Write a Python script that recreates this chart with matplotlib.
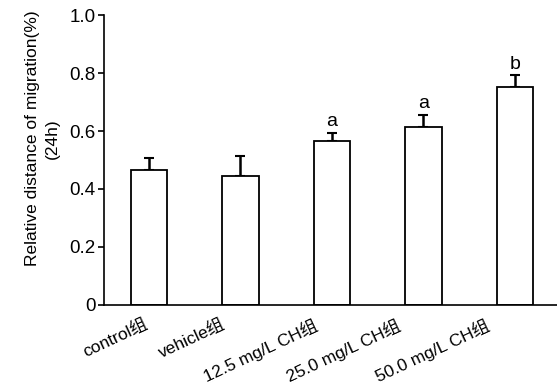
import numpy as np
import matplotlib.pyplot as plt
import matplotlib.transforms as mtransforms

plt.rcParams['font.family'] = ['Liberation Sans', 'Noto Sans CJK SC']

groups = ['control组', 'vehicle组', '12.5 mg/L CH组', '25.0 mg/L CH组', '50.0 mg/L CH组']
means = [0.466, 0.445, 0.567, 0.615, 0.753]
errs = [0.042, 0.069, 0.027, 0.041, 0.040]
marks = ['', '', 'a', 'a', 'b']

fig = plt.figure(figsize=(5.57, 3.86), dpi=100)
ax = fig.add_axes([0.187, 0.21, 0.813, 0.751])

x = np.arange(len(groups))
ax.bar(x, means, width=0.4, color='white', edgecolor='black', linewidth=1.3, zorder=2)
ax.errorbar(x, means, yerr=[np.zeros(len(errs)), errs], fmt='none', ecolor='black',
            elinewidth=1.8, capsize=3.5, capthick=1.5, zorder=1)

for xi, m, e, t in zip(x, means, errs, marks):
    if t:
        ax.text(xi, m + e + 0.008, t, ha='center', va='bottom', fontsize=14)

ax.set_xlim(-0.49, 4.46)
ax.set_ylim(0, 1.0)
ax.set_yticks([0, 0.2, 0.4, 0.6, 0.8, 1.0])
ax.set_yticklabels(['0', '0.2', '0.4', '0.6', '0.8', '1.0'], fontsize=13.5)
ax.set_xticks(x)
ax.set_xticklabels([])

# group labels, drawn by hand because in the original they sit left of their bars
shift_px = [-5, -19, -19, -28, -30]
for xi, g, dx in zip(x, groups, shift_px):
    tr = ax.get_xaxis_transform() + mtransforms.ScaledTranslation(dx / 100, -11 / 100,
                                                                  fig.dpi_scale_trans)
    ax.text(xi, 0, g, transform=tr, fontsize=12.5, rotation=25, ha='right', va='top',
            rotation_mode='anchor')

ax.tick_params(axis='x', length=0)
ax.tick_params(axis='y', length=4, width=1.2, pad=2)
ax.spines['top'].set_visible(False)
ax.spines['right'].set_visible(False)
ax.spines['left'].set_linewidth(1.2)
ax.spines['bottom'].set_linewidth(1.2)
ax.set_ylabel('Relative distance of migration(%)\n(24h)', fontsize=12.5,
              linespacing=1.4)
ax.yaxis.set_label_coords(-0.097, 0.574)

fig.savefig('out.png', dpi=100)
